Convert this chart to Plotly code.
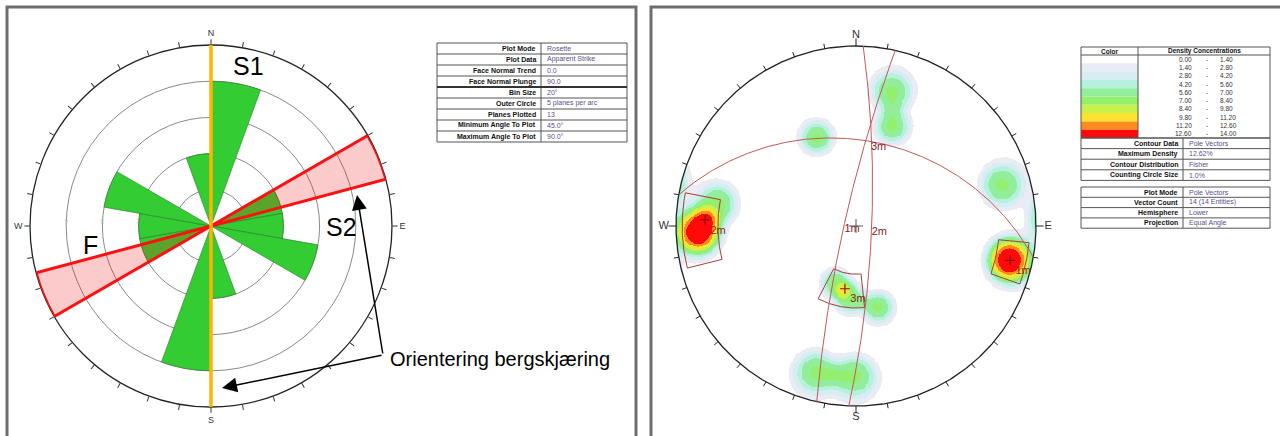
import numpy as np
import plotly.graph_objects as go

W, H = 1280, 436

# ---------------- Rose diagram data ----------------
bin_size = 20
bin_starts = [0, 20, 40, 60, 80, 100, 120, 140, 160]
bin_counts = [4, 0, 0, 2, 2, 3, 0, 0, 2]
outer_circle = 5
cut_band_center = 67.5
cut_band_width = 15
face_line_trend = 0
ring_values = [1, 2, 3, 4]

rose_table_labels = ["Plot Mode", "Plot Data", "Face Normal Trend", "Face Normal Plunge",
                     "Bin Size", "Outer Circle", "Planes Plotted",
                     "Minimum Angle To Plot", "Maximum Angle To Plot"]
rose_table_values = ["Rosette", "Apparent Strike", "0.0", "90.0", "20°",
                     "5 planes per arc", "13", "45.0°", "90.0°"]

# ---------------- Stereonet data ----------------
pole_trends = [268.2, 267.4, 279.1, 102.3, 102.8, 199.3, 184.8, 164.8, 195.3, 180.4, 15.0, 20.0, 336.1, 74.3]
pole_plunges = [7.1, 8.1, 14.3, 8.3, 7.5, 52.9, 46.3, 40.0, 9.9, 10.4, 14.7, 29.3, 33.7, 9.8]
set_names = ["1m", "2m", "3m"]
set_trends = [102.6, 272.3, 190]
set_plunges = [7.5, 10, 51]
window_trend_min = [95.5, 256, 174]
window_trend_max = [109.5, 281, 207.5]
window_plunge_min = [2, 2, 41]
window_plunge_max = [13, 15, 60]
counting_circle_pct = 1.0

density_lo = [0.00, 1.40, 2.80, 4.20, 5.60, 7.00, 8.40, 9.80, 11.20, 12.60]
density_hi = [1.40, 2.80, 4.20, 5.60, 7.00, 8.40, 9.80, 11.20, 12.60, 14.00]
density_colors = ["#ffffff", "#e9ecf2", "#d6eef2", "#b6f0df", "#93ee9c",
                  "#92f06e", "#c9f14e", "#ffe22e", "#ff8a1e", "#ff0a0a"]

info1_labels = ["Contour Data", "Maximum Density", "Contour Distribution", "Counting Circle Size"]
info1_values = ["Pole Vectors", "12.62%", "Fisher", "1.0%"]
info2_labels = ["Plot Mode", "Vector Count", "Hemisphere", "Projection"]
info2_values = ["Pole Vectors", "14 (14 Entities)", "Lower", "Equal Angle"]

# ---------------- helpers ----------------
def px(x):
    return x / W

def py(y):
    return 1 - y / H

def vec(t, p):
    t = np.radians(t); p = np.radians(p)
    return np.array([np.cos(p) * np.sin(t), np.cos(p) * np.cos(t), np.sin(p)])

def proj(t, p):
    r = np.tan(np.radians(90 - np.asarray(p, float)) / 2)
    t = np.radians(np.asarray(t, float))
    return r * np.sin(t), r * np.cos(t)

fig = go.Figure()
shapes = []
annots = []

# ---------------- Rose diagram ----------------
centers = [b + bin_size / 2 for b in bin_starts]
theta = centers + [c + 180 for c in centers]
rr = bin_counts + bin_counts
fig.add_trace(go.Barpolar(theta=theta, r=rr, width=[bin_size] * len(theta),
                          marker=dict(color="#33cc33", line=dict(color="#2a7a2a", width=0.6)),
                          subplot="polar", hoverinfo="skip", showlegend=False))
fig.add_trace(go.Barpolar(theta=[cut_band_center, cut_band_center + 180], r=[outer_circle] * 2,
                          width=[cut_band_width] * 2,
                          marker=dict(color="rgba(235,20,20,0.22)", line=dict(color="#ff1010", width=3)),
                          subplot="polar", hoverinfo="skip", showlegend=False))
fig.add_trace(go.Scatterpolar(r=[outer_circle, 0, outer_circle],
                              theta=[face_line_trend, face_line_trend, face_line_trend + 180],
                              mode="lines", line=dict(color="#ffb400", width=3.5),
                              subplot="polar", hoverinfo="skip", showlegend=False))

tickvals = list(range(0, 360, 10))
cardinal = {0: "N", 90: "E", 180: "S", 270: "W"}
ticktext = [cardinal.get(v, "") for v in tickvals]

cx_r, cy_r, R_r = 211, 226, 181
fig.update_layout(polar=dict(
    domain=dict(x=[px(cx_r - R_r), px(cx_r + R_r)], y=[py(cy_r + R_r), py(cy_r - R_r)]),
    bgcolor="white",
    angularaxis=dict(rotation=90, direction="clockwise", tickmode="array",
                     tickvals=tickvals, ticktext=ticktext, ticks="outside", ticklen=5,
                     tickcolor="#333", showline=True, linecolor="#222", linewidth=1.3,
                     showgrid=False, tickfont=dict(size=9, color="#333"), layer="below traces"),
    radialaxis=dict(range=[0, outer_circle], tickvals=ring_values, showline=False, ticks="",
                    gridcolor="#8a8a8a", gridwidth=0.7, angle=180,
                    tickfont=dict(size=7, color="#c8c8c8"), layer="below traces"),
))

# ---------------- Stereonet ----------------
n = 401
g = np.linspace(-1, 1, n)
X, Y = np.meshgrid(g, g)
r2 = X ** 2 + Y ** 2
inside = r2 <= 1.0
E = 2 * X / (1 + r2); N = 2 * Y / (1 + r2); D = (1 - r2) / (1 + r2)
sigma = np.radians(8.5)
peak = 100.0 / len(pole_trends) / counting_circle_pct
dens = np.zeros_like(X)
for t, p in zip(pole_trends, pole_plunges):
    v = vec(t, p)
    c = np.abs(E * v[0] + N * v[1] + D * v[2])
    th = np.arccos(np.clip(c, 0, 1))
    dens += peak * np.exp(-(th / sigma) ** 3)
Z = np.where(inside, np.minimum(dens, 13.99), np.nan)

cs = []
nl = len(density_colors)
for i, col in enumerate(density_colors):
    cs.append([i / nl, col]); cs.append([(i + 1) / nl, col])
fig.add_trace(go.Heatmap(x=g, y=g, z=Z, zmin=density_lo[0], zmax=density_hi[-1],
                         colorscale=cs, showscale=False, hoverinfo="skip", zsmooth=False))

# primitive circle + ticks (frame)
a = np.linspace(0, 2 * np.pi, 721)
fig.add_trace(go.Scatter(x=np.sin(a), y=np.cos(a), mode="lines",
                         line=dict(color="#222", width=1.3), hoverinfo="skip", showlegend=False))
tx, ty = [], []
for t in tickvals:
    L = 1.042 if t in cardinal else 1.028
    s, c = np.sin(np.radians(t)), np.cos(np.radians(t))
    tx += [s, L * s, None]; ty += [c, L * c, None]
fig.add_trace(go.Scatter(x=tx, y=ty, mode="lines", line=dict(color="#222", width=1),
                         hoverinfo="skip", showlegend=False))
lab_t = list(cardinal.keys())
fig.add_trace(go.Scatter(x=[1.068 * np.sin(np.radians(t)) for t in lab_t],
                         y=[1.062 * np.cos(np.radians(t)) for t in lab_t],
                         mode="text", text=[cardinal[t] for t in lab_t],
                         textfont=dict(size=11, color="#333"), hoverinfo="skip", showlegend=False))

# windows
for t0, t1, p0, p1 in zip(window_trend_min, window_trend_max, window_plunge_min, window_plunge_max):
    ts = np.linspace(t0, t1, 40)
    tt = np.concatenate([ts, [t1], ts[::-1], [t0], [t0]])
    pp = np.concatenate([np.full(40, p0), [p1], np.full(40, p1), [p1], [p0]])
    wx, wy = proj(tt, pp)
    fig.add_trace(go.Scatter(x=wx, y=wy, mode="lines", line=dict(color="#a83c3c", width=1),
                             hoverinfo="skip", showlegend=False))

# great circles of mean planes
mid_x, mid_y = [], []
for t, p in zip(set_trends, set_plunges):
    dd = (t + 180) % 360; dip = 90 - p
    s = vec(dd - 90, 0); d = vec(dd, dip)
    al = np.linspace(0, np.pi, 241)
    v = np.outer(np.cos(al), s) + np.outer(np.sin(al), d)
    gx = v[:, 0] / (1 + v[:, 2]); gy = v[:, 1] / (1 + v[:, 2])
    fig.add_trace(go.Scatter(x=gx, y=gy, mode="lines", line=dict(color="#c45858", width=1),
                             hoverinfo="skip", showlegend=False))
    mx, my = proj(dd, dip)
    mid_x.append(float(mx)); mid_y.append(float(my))
fig.add_trace(go.Scatter(x=mid_x, y=mid_y, mode="text", text=set_names, textposition="bottom right",
                         textfont=dict(size=11, color="#8b1a1a"), hoverinfo="skip", showlegend=False))
sx, sy = proj(set_trends, set_plunges)
fig.add_trace(go.Scatter(x=sx, y=sy, mode="markers+text", text=set_names, textposition="bottom right",
                         marker=dict(symbol="cross-thin", size=7, line=dict(color="#8b1010", width=1.2)),
                         textfont=dict(size=11, color="#8b1a1a"), hoverinfo="skip", showlegend=False))
fig.add_trace(go.Scatter(x=[0], y=[0], mode="markers",
                         marker=dict(symbol="cross-thin", size=10, line=dict(color="#555", width=1)),
                         hoverinfo="skip", showlegend=False))

cx_s, cy_s, R_s = 856, 226, 180
ext = 1.15
half = R_s * ext
fig.update_layout(
    xaxis=dict(domain=[px(cx_s - half), px(cx_s + half)], range=[-ext, ext], visible=False, fixedrange=True),
    yaxis=dict(domain=[py(cy_s + half), py(cy_s - half)], range=[-ext, ext], visible=False, fixedrange=True),
)

# ---------------- Tables (drawn as shapes + text) ----------------
lab_col = "#111"
val_col = "#5b4f8c"
tf = 7
grid_col = "#555"

def hline(x0, x1, y, w=1, col=grid_col):
    shapes.append(dict(type="line", xref="paper", yref="paper", x0=px(x0), x1=px(x1),
                       y0=py(y), y1=py(y), line=dict(color=col, width=w)))

def vline(x, y0, y1, w=1, col=grid_col):
    shapes.append(dict(type="line", xref="paper", yref="paper", x0=px(x), x1=px(x),
                       y0=py(y0), y1=py(y1), line=dict(color=col, width=w)))

def text(x, y, s, anchor="center", size=tf, color=lab_col, bold=False):
    annots.append(dict(xref="paper", yref="paper", x=px(x), y=py(y), showarrow=False,
                       text=("<b>%s</b>" % s) if bold else s, xanchor=anchor, yanchor="middle",
                       font=dict(size=size, color=color, family="Liberation Sans")))

def info_table(labels, values, x0, x1, split, top, rowh, thick_after=None):
    nr = len(labels)
    bottom = top + rowh * nr
    shapes.append(dict(type="rect", xref="paper", yref="paper", x0=px(x0), x1=px(x1),
                       y0=py(bottom), y1=py(top), line=dict(color=grid_col, width=1)))
    vline(split, top, bottom)
    for i in range(1, nr):
        yb = top + i * rowh
        hline(x0, x1, yb, 2 if thick_after == i else 1, "#333" if thick_after == i else grid_col)
    for i, (l, v) in enumerate(zip(labels, values)):
        yc = top + (i + 0.5) * rowh
        text(split - 3, yc, l, "right", bold=True)
        text(split + 4, yc, v, "left", color=val_col)

info_table(rose_table_labels, rose_table_values, 437, 627, 541, 43, 11, thick_after=4)
info_table(info1_labels, info1_values, 1081, 1270, 1183, 138, 10.6)
info_table(info2_labels, info2_values, 1081, 1270, 1183, 187, 10.3)

# density legend table
lt, lx0, lx1, lsplit, hh, rh = 47, 1081, 1270, 1138, 8, 8.3
lb = lt + hh + rh * len(density_colors)
for i, col in enumerate(density_colors):
    y0 = lt + hh + i * rh
    shapes.append(dict(type="rect", xref="paper", yref="paper", x0=px(lx0), x1=px(lsplit),
                       y0=py(y0 + rh), y1=py(y0), fillcolor=col, line=dict(width=0), layer="below"))
    yc = y0 + rh / 2
    text(1194, yc, "%.2f" % density_lo[i], "right", size=6.5, color="#333")
    text(1207, yc, "-", "center", size=6.5, color="#333")
    text(1218, yc, "%.2f" % density_hi[i], "left", size=6.5, color="#333")
shapes.append(dict(type="rect", xref="paper", yref="paper", x0=px(lx0), x1=px(lx1),
                   y0=py(lb), y1=py(lt), line=dict(color=grid_col, width=1)))
hline(lx0, lx1, lt + hh)
vline(lsplit, lt, lb)
text((lx0 + lsplit) / 2, lt + hh / 2, "Color", size=6.5, bold=True)
text((lsplit + lx1) / 2, lt + hh / 2, "Density Concentrations", size=6.5, bold=True)

# ---------------- Frames & labels ----------------
shapes += [
    dict(type="rect", xref="paper", yref="paper", x0=px(7), x1=px(636), y0=py(445), y1=py(7),
         line=dict(color="#6e6e6e", width=3)),
    dict(type="rect", xref="paper", yref="paper", x0=px(651), x1=px(1295), y0=py(445), y1=py(7),
         line=dict(color="#6e6e6e", width=3)),
]

annots += [
    dict(x=px(248), y=py(66), text="S1", showarrow=False, xanchor="center", yanchor="middle",
         font=dict(size=25, color="black")),
    dict(x=px(341), y=py(227), text="S2", showarrow=False, xanchor="center", yanchor="middle",
         font=dict(size=25, color="black")),
    dict(x=px(90), y=py(245), text="F", showarrow=False, xanchor="center", yanchor="middle",
         font=dict(size=25, color="black")),
    dict(x=px(388), y=py(359), text="Orientering bergskjæring", showarrow=False,
         xanchor="left", yanchor="middle", font=dict(size=20, color="black")),
    dict(x=px(357), y=py(195), ax=26, ay=160, text="", showarrow=True, arrowhead=2,
         arrowsize=2, arrowwidth=1.5, arrowcolor="black", standoff=0),
    dict(x=px(222), y=py(388), ax=161, ay=-33, text="", showarrow=True, arrowhead=2,
         arrowsize=2, arrowwidth=1.5, arrowcolor="black", standoff=0),
]
for an in annots:
    an.setdefault("xref", "paper"); an.setdefault("yref", "paper")

fig.update_layout(width=W, height=H, margin=dict(l=0, r=0, t=0, b=0),
                  paper_bgcolor="white", plot_bgcolor="white",
                  font=dict(family="Liberation Sans"), showlegend=False,
                  shapes=shapes, annotations=annots)

fig.write_html("out.html")
